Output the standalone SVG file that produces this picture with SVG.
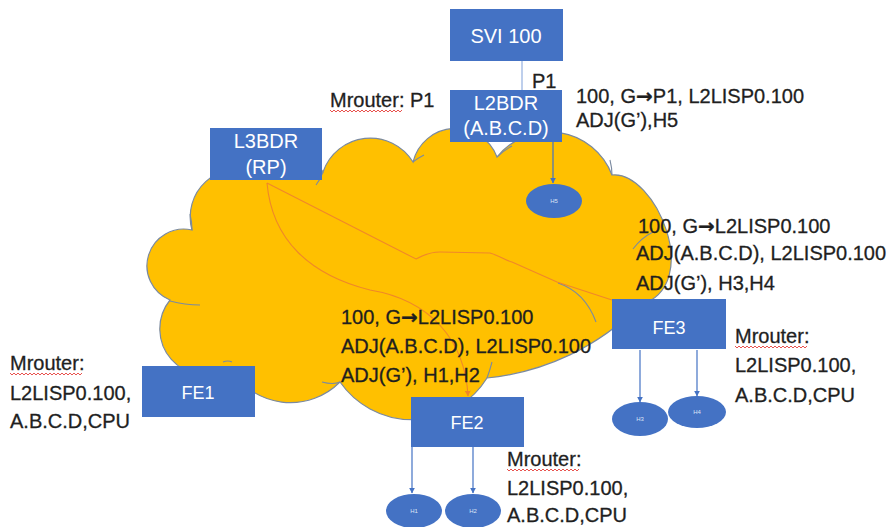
<svg xmlns="http://www.w3.org/2000/svg" width="894" height="527" viewBox="0 0 894 527">
  <defs>
    <style>
      .box { fill: #4472C4; }
      .blab { fill: #ffffff; font-family: "Liberation Sans", Arial, sans-serif; font-size: 20px; text-anchor: middle; }
      .fe { font-size: 18px; }
      .host { fill: #4472C4; }
      .hlab { fill: #dbe4f5; font-family: "Liberation Sans", Arial, sans-serif; font-size: 6px; text-anchor: middle; }
      .txt { fill: #1f1f1f; stroke: #1f1f1f; stroke-width: 0.3; font-family: "Liberation Sans", Arial, sans-serif; font-size: 20px; }
      .arw { font-family: "DejaVu Sans", sans-serif; font-weight: bold; }
      .cloud { fill: #FFC000; stroke: #7b8aa0; stroke-width: 1.2; }
      .inner { fill: none; stroke: #7b8aa0; stroke-width: 1.1; }
      .blue { stroke: #4472C4; stroke-width: 1.2; fill: none; }
      .light { stroke: #a9bfe6; stroke-width: 1.5; fill: none; }
      .orange { stroke: #ED7D31; stroke-width: 1.1; fill: none; opacity: 0.85; }
      .squig { stroke: #e8534f; stroke-width: 1; fill: none; }
    </style>
    <marker id="arrBlue" viewBox="0 0 10 10" refX="9" refY="5" markerWidth="6" markerHeight="6" orient="auto" markerUnits="userSpaceOnUse">
      <path d="M0,0 L10,5 L0,10 Z" fill="#4472C4"/>
    </marker>
    <marker id="arrOrange" viewBox="0 0 10 10" refX="9" refY="5" markerWidth="6" markerHeight="6" orient="auto" markerUnits="userSpaceOnUse">
      <path d="M0,0 L10,5 L0,10 Z" fill="#ED7D31"/>
    </marker>
    <!-- spell-check style wavy underline -->
    <path id="wave" d="M0,0 l2,2 l2,-2 l2,2 l2,-2 l2,2 l2,-2 l2,2 l2,-2 l2,2 l2,-2 l2,2 l2,-2 l2,2 l2,-2 l2,2 l2,-2 l2,2 l2,-2 l2,2 l2,-2 l2,2 l2,-2 l2,2 l2,-2 l2,2 l2,-2 l2,2 l2,-2 l2,2 l2,-2 l2,2 l2,-2 l2,2 l2,-2 l2,2 l2,-2"/>
  </defs>

  <rect width="894" height="527" fill="#ffffff"/>

  <!-- fabric cloud -->
  <g id="cloud">
    <path class="cloud" d="M192,230 A48,48 0 0 1 255,172 A40,40 0 0 1 323,172 A50,50 0 0 1 413,162 A44,44 0 0 1 497,157 A67,67 0 0 1 612,175 C655,170 705,285 640,305 A250,250 0 0 1 487,378 A88,88 0 0 1 340,382 A70,70 0 0 1 230,368 A46,46 0 0 1 170,300 A36.8,36.8 0 0 1 192,230 Z"/>
    <path class="inner" d="M170,301 Q185,305 200,305"/>
    <path class="inner" d="M192,230 Q192,222 190,214"/>
    <path class="inner" d="M323,172 Q320,180 316,185"/>
    <path class="inner" d="M413,162 Q418,158 424,155"/>
    <path class="inner" d="M497,157 Q504,150 512,146"/>
    <path class="inner" d="M612,175 Q612,168 610,160"/>
    <path class="inner" d="M558,283 Q585,292 596,322"/>
    <path class="inner" d="M633,249 Q641,238 653,232"/>
    <path class="inner" d="M340,382 Q333,385 322,382"/>
    <path class="inner" d="M487,378 Q490,370 492,362"/>
    <path class="inner" d="M223,362 Q228,360 232,362"/>
  </g>

  <!-- connectors -->
  <g id="connectors">
    <line class="light" x1="522" y1="61" x2="522" y2="90"/>
    <line class="blue" x1="553" y1="142" x2="553" y2="183" marker-end="url(#arrBlue)"/>
    <line class="blue" x1="640" y1="350" x2="640" y2="402" marker-end="url(#arrBlue)"/>
    <line class="blue" x1="697" y1="350" x2="697" y2="396" marker-end="url(#arrBlue)"/>
    <line class="blue" x1="412" y1="447" x2="412" y2="493" marker-end="url(#arrBlue)"/>
    <line class="blue" x1="473" y1="447" x2="473" y2="493" marker-end="url(#arrBlue)"/>
    <path class="orange" d="M267,183 L416,259 C425,254 432,252 440,252 L490,253 C500,256 505,260 512,262 L557,282 L612,300"/>
    <path class="orange" d="M267,183 C272,240 310,275 370,290 C430,300 465,340 468,396" marker-end="url(#arrOrange)"/>
  </g>

  <!-- switches -->
  <g id="svi100">
    <rect class="box" x="450" y="9" width="113" height="52"/>
    <text class="blab" x="506" y="43">SVI 100</text>
  </g>
  <g id="l2bdr">
    <rect class="box" x="450" y="90" width="112" height="52"/>
    <text class="blab" x="506" y="110">L2BDR</text>
    <text class="blab" x="506" y="135">(A.B.C.D)</text>
  </g>
  <g id="l3bdr">
    <rect class="box" x="210" y="128" width="112" height="52"/>
    <text class="blab" x="266" y="148">L3BDR</text>
    <text class="blab" x="266" y="174">(RP)</text>
  </g>
  <g id="fe1">
    <rect class="box" x="142" y="366" width="113" height="51"/>
    <text class="blab fe" x="198" y="399">FE1</text>
  </g>
  <g id="fe2">
    <rect class="box" x="411" y="397" width="113" height="50"/>
    <text class="blab fe" x="467" y="429">FE2</text>
  </g>
  <g id="fe3">
    <rect class="box" x="612" y="299" width="114" height="50"/>
    <text class="blab fe" x="669" y="334">FE3</text>
  </g>

  <!-- hosts -->
  <g id="h5">
    <ellipse class="host" cx="554" cy="201" rx="28" ry="17"/>
    <text class="hlab" x="554" y="203">H5</text>
  </g>
  <g id="h3">
    <ellipse class="host" cx="640" cy="419" rx="28" ry="17"/>
    <text class="hlab" x="640" y="421">H3</text>
  </g>
  <g id="h4">
    <ellipse class="host" cx="697" cy="412" rx="29" ry="16"/>
    <text class="hlab" x="697" y="414">H4</text>
  </g>
  <g id="h1">
    <ellipse class="host" cx="414" cy="511" rx="28" ry="17"/>
    <text class="hlab" x="414" y="513">H1</text>
  </g>
  <g id="h2">
    <ellipse class="host" cx="473" cy="511" rx="28" ry="17"/>
    <text class="hlab" x="473" y="513">H2</text>
  </g>

  <!-- annotations -->
  <g id="labels">
    <text class="txt" x="532" y="88">P1</text>
    <text class="txt" x="330" y="107">Mrouter: P1</text>
    <use href="#wave" class="squig" x="330" y="110"/>

    <text class="txt" x="576" y="103">100, G<tspan class="arw">→</tspan>P1, L2LISP0.100</text>
    <text class="txt" x="576" y="127">ADJ(G’),H5</text>

    <text class="txt" x="638" y="233">100, G<tspan class="arw">→</tspan>L2LISP0.100</text>
    <text class="txt" x="636" y="260">ADJ(A.B.C.D), L2LISP0.100</text>
    <text class="txt" x="636" y="290">ADJ(G’), H3,H4</text>

    <text class="txt" x="341" y="324">100, G<tspan class="arw">→</tspan>L2LISP0.100</text>
    <text class="txt" x="341" y="353">ADJ(A.B.C.D), L2LISP0.100</text>
    <text class="txt" x="341" y="382">ADJ(G’), H1,H2</text>

    <text class="txt" x="735" y="343">Mrouter:</text>
    <text class="txt" x="735" y="372">L2LISP0.100,</text>
    <text class="txt" x="735" y="402">A.B.C.D,CPU</text>
    <use href="#wave" class="squig" x="735" y="346"/>

    <text class="txt" x="10" y="370">Mrouter:</text>
    <text class="txt" x="10" y="400">L2LISP0.100,</text>
    <text class="txt" x="10" y="428">A.B.C.D,CPU</text>
    <use href="#wave" class="squig" x="10" y="373"/>

    <text class="txt" x="507" y="466">Mrouter:</text>
    <text class="txt" x="507" y="495">L2LISP0.100,</text>
    <text class="txt" x="507" y="522">A.B.C.D,CPU</text>
    <use href="#wave" class="squig" x="507" y="469"/>
  </g>
</svg>
